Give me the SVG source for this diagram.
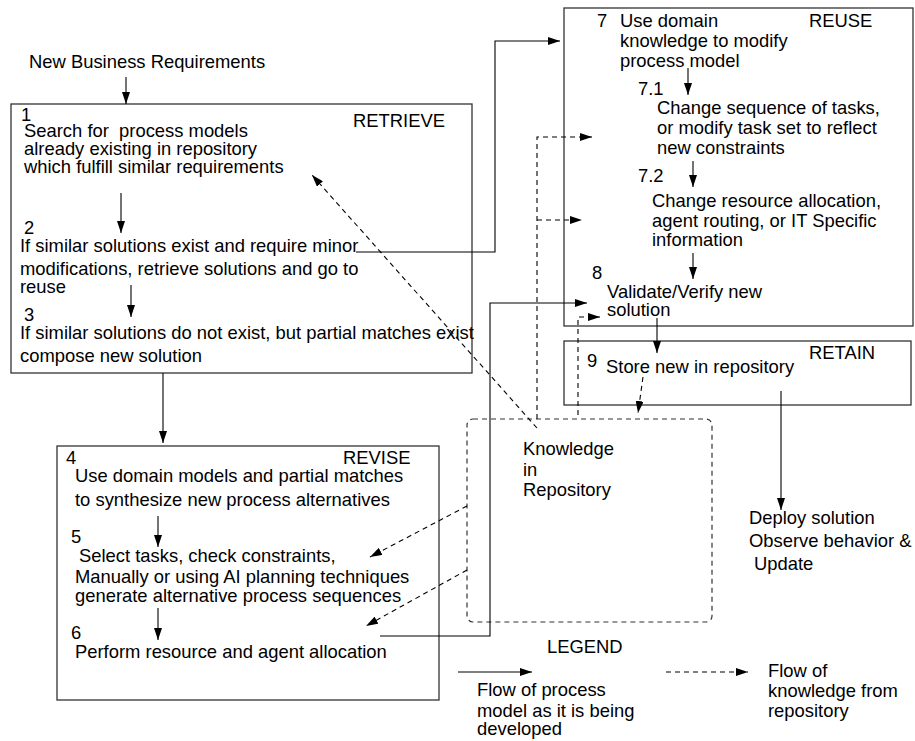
<svg xmlns="http://www.w3.org/2000/svg" width="915" height="741" viewBox="0 0 915 741">
  <style>
    text { font-family: "Liberation Sans", Arial, Helvetica, sans-serif; font-size: 18.4px; fill: #000; }
    .box { fill: none; stroke: #333; stroke-width: 1.3; }
    .flow { fill: none; stroke: #000; stroke-width: 1.1; }
    .know { fill: none; stroke: #000; stroke-width: 1.1; stroke-dasharray: 5 4; }
    .repo { fill: none; stroke: #333; stroke-width: 1.2; stroke-dasharray: 5 4; }
  </style>
  <defs>
    <marker id="head" viewBox="0 0 12 8" refX="12" refY="4" markerWidth="12" markerHeight="8" markerUnits="userSpaceOnUse" orient="auto">
      <path d="M0,0 L12,4 L0,8 z" fill="#000"/>
    </marker>
  </defs>

  <rect width="915" height="741" fill="#fff"/>

  <!-- input -->
  <g id="input">
    <text x="29" y="68">New Business Requirements</text>
  </g>

  <!-- RETRIEVE phase, steps 1-3 -->
  <g id="retrieve">
    <rect class="box" x="11" y="104" width="461" height="269"/>
    <text x="21" y="121">1</text>
    <text x="24" y="137" xml:space="preserve">Search for  process models</text>
    <text x="24" y="155">already existing in repository</text>
    <text x="24" y="173">which fulfill similar requirements</text>
    <text x="353" y="127">RETRIEVE</text>
    <text x="24" y="234">2</text>
    <text x="20" y="252">If similar solutions exist and require minor</text>
    <text x="20" y="275">modifications, retrieve solutions and go to</text>
    <text x="20" y="293">reuse</text>
    <text x="24" y="321">3</text>
    <text x="20" y="339">If similar solutions do not exist, but partial matches exist</text>
    <text x="20" y="362">compose new solution</text>
  </g>

  <!-- REUSE phase, steps 7-8 -->
  <g id="reuse">
    <rect class="box" x="564" y="8" width="349" height="318"/>
    <text x="597" y="27">7</text>
    <text x="620" y="27">Use domain</text>
    <text x="620" y="47">knowledge to modify</text>
    <text x="620" y="67">process model</text>
    <text x="809" y="27">REUSE</text>
    <text x="638" y="95">7.1</text>
    <text x="657" y="114">Change sequence of tasks,</text>
    <text x="657" y="134">or modify task set to reflect</text>
    <text x="657" y="154">new constraints</text>
    <text x="638" y="182">7.2</text>
    <text x="652" y="207">Change resource allocation,</text>
    <text x="652" y="227">agent routing, or IT Specific</text>
    <text x="652" y="246">information</text>
    <text x="592" y="279">8</text>
    <text x="607" y="298">Validate/Verify new</text>
    <text x="607" y="316">solution</text>
  </g>

  <!-- RETAIN phase, step 9 -->
  <g id="retain">
    <rect class="box" x="564" y="341" width="347" height="64"/>
    <text x="587" y="367">9</text>
    <text x="606" y="373">Store new in repository</text>
    <text x="809" y="359">RETAIN</text>
  </g>

  <!-- REVISE phase, steps 4-6 -->
  <g id="revise">
    <rect class="box" x="57" y="446" width="382" height="254"/>
    <text x="66" y="464">4</text>
    <text x="343" y="464">REVISE</text>
    <text x="75" y="482">Use domain models and partial matches</text>
    <text x="75" y="506">to synthesize new process alternatives</text>
    <text x="71" y="543">5</text>
    <text x="79" y="562">Select tasks, check constraints,</text>
    <text x="75" y="583">Manually or using AI planning techniques</text>
    <text x="75" y="602">generate alternative process sequences</text>
    <text x="71" y="639">6</text>
    <text x="75" y="658">Perform resource and agent allocation</text>
  </g>

  <!-- shared knowledge store -->
  <g id="repository">
    <rect class="repo" x="467" y="419" width="245" height="203" rx="6"/>
    <text x="523" y="455">Knowledge</text>
    <text x="523" y="476">in</text>
    <text x="523" y="496">Repository</text>
  </g>

  <!-- deployment -->
  <g id="deploy">
    <text x="749" y="524">Deploy solution</text>
    <text x="749" y="547">Observe behavior &amp;</text>
    <text x="754" y="570">Update</text>
  </g>

  <!-- legend -->
  <g id="legend">
    <text x="547" y="653">LEGEND</text>
    <line class="flow" x1="458" y1="672" x2="532" y2="672" marker-end="url(#head)"/>
    <text x="477" y="696">Flow of process</text>
    <text x="477" y="717">model as it is being</text>
    <text x="477" y="735">developed</text>
    <line class="know" x1="666" y1="672" x2="748" y2="672" marker-end="url(#head)"/>
    <text x="768" y="677">Flow of</text>
    <text x="768" y="697">knowledge from</text>
    <text x="768" y="717">repository</text>
  </g>

  <!-- connectors -->
  <g id="connectors">
    <!-- process model flow -->
    <line class="flow" x1="126" y1="77" x2="126" y2="104" marker-end="url(#head)"/>
    <line class="flow" x1="121" y1="193" x2="121" y2="233" marker-end="url(#head)"/>
    <line class="flow" x1="131" y1="285" x2="131" y2="317" marker-end="url(#head)"/>
    <line class="flow" x1="163" y1="373" x2="163" y2="443" marker-end="url(#head)"/>
    <polyline class="flow" points="356,252 495,252 495,41 560,41" marker-end="url(#head)"/>
    <line class="flow" x1="688" y1="68" x2="688" y2="95" marker-end="url(#head)"/>
    <line class="flow" x1="693" y1="161" x2="693" y2="187" marker-end="url(#head)"/>
    <line class="flow" x1="693" y1="253" x2="693" y2="279" marker-end="url(#head)"/>
    <line class="flow" x1="657" y1="318" x2="657" y2="353" marker-end="url(#head)"/>
    <line class="flow" x1="158" y1="516" x2="158" y2="547" marker-end="url(#head)"/>
    <line class="flow" x1="158" y1="608" x2="158" y2="640" marker-end="url(#head)"/>
    <polyline class="flow" points="380,636 490,636 490,303 587,303" marker-end="url(#head)"/>
    <line class="flow" x1="781" y1="391" x2="781" y2="510" marker-end="url(#head)"/>

    <!-- knowledge flow from repository -->
    <line class="know" x1="537" y1="428" x2="312" y2="175" marker-end="url(#head)"/>
    <polyline class="know" points="537,419 537,137 592,137" marker-end="url(#head)"/>
    <line class="know" x1="537" y1="220" x2="582" y2="220" marker-end="url(#head)"/>
    <polyline class="know" points="578,415 578,317 600,317" marker-end="url(#head)"/>
    <line class="know" x1="643" y1="377" x2="638" y2="413" marker-end="url(#head)"/>
    <line class="know" x1="467" y1="506" x2="370" y2="557" marker-end="url(#head)"/>
    <line class="know" x1="467" y1="570" x2="366" y2="626" marker-end="url(#head)"/>
  </g>
</svg>
